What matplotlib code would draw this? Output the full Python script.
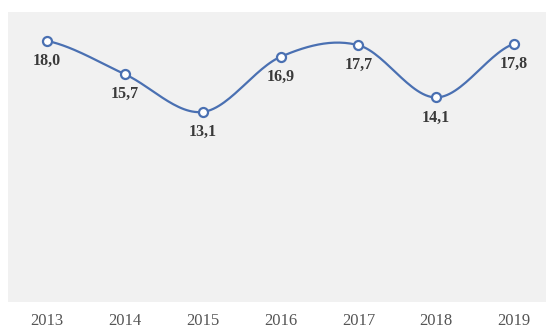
import numpy as np
import matplotlib
matplotlib.use('Agg')
from matplotlib import pyplot as plt

years = ['2013', '2014', '2015', '2016', '2017', '2018', '2019']
values = [18.0, 15.7, 13.1, 16.9, 17.7, 14.1, 17.8]
labels = ['18,0', '15,7', '13,1', '16,9', '17,7', '14,1', '17,8']

line_col = '#4a70b2'

# smooth curve through the points (Catmull-Rom, like Excel's smoothed line)
def smooth(x, y, n=30):
    x = np.asarray(x, float)
    y = np.asarray(y, float)
    px = np.concatenate([[2*x[0]-x[1]], x, [2*x[-1]-x[-2]]])
    py = np.concatenate([[y[0]], y, [y[-1]]])
    xs, ys = [], []
    t = np.linspace(0, 1, n)
    for i in range(1, len(px)-2):
        for p, out in ((px, xs), (py, ys)):
            p0, p1, p2, p3 = p[i-1], p[i], p[i+1], p[i+2]
            out.extend(0.5*((2*p1) + (-p0+p2)*t + (2*p0-5*p1+4*p2-p3)*t**2
                             + (-p0+3*p1-3*p2+p3)*t**3))
    return xs, ys

x = np.arange(len(years))
sx, sy = smooth(x, values)

fig = plt.figure(figsize=(5.46, 3.29), dpi=100)
ax = fig.add_axes([0.015, 0.082, 0.985, 0.882])
ax.set_facecolor('#f1f1f1')
ax.plot(sx, sy, color=line_col, linewidth=1.6, zorder=2)
ax.plot(x, values, linestyle='none', marker='o', markersize=6.5,
        markerfacecolor='white', markeredgecolor=line_col, markeredgewidth=1.6, zorder=3)
for xi, v, lab in zip(x, values, labels):
    ax.annotate(lab, (xi, v), xytext=(0, -20), textcoords='offset pixels',
                ha='center', va='center', fontsize=11.5, fontweight='bold',
                family='Liberation Serif', color='#3a3a3a')

ax.set_xlim(-0.5, 6.41)
ax.set_ylim(0, 20)
ax.set_xticks(x)
ax.set_xticklabels(years, family='Liberation Serif', fontsize=12, color='#555555')
ax.set_yticks([])
ax.tick_params(axis='x', length=0, pad=8)
for s in ax.spines.values():
    s.set_visible(False)

fig.savefig('out.png', dpi=100)
